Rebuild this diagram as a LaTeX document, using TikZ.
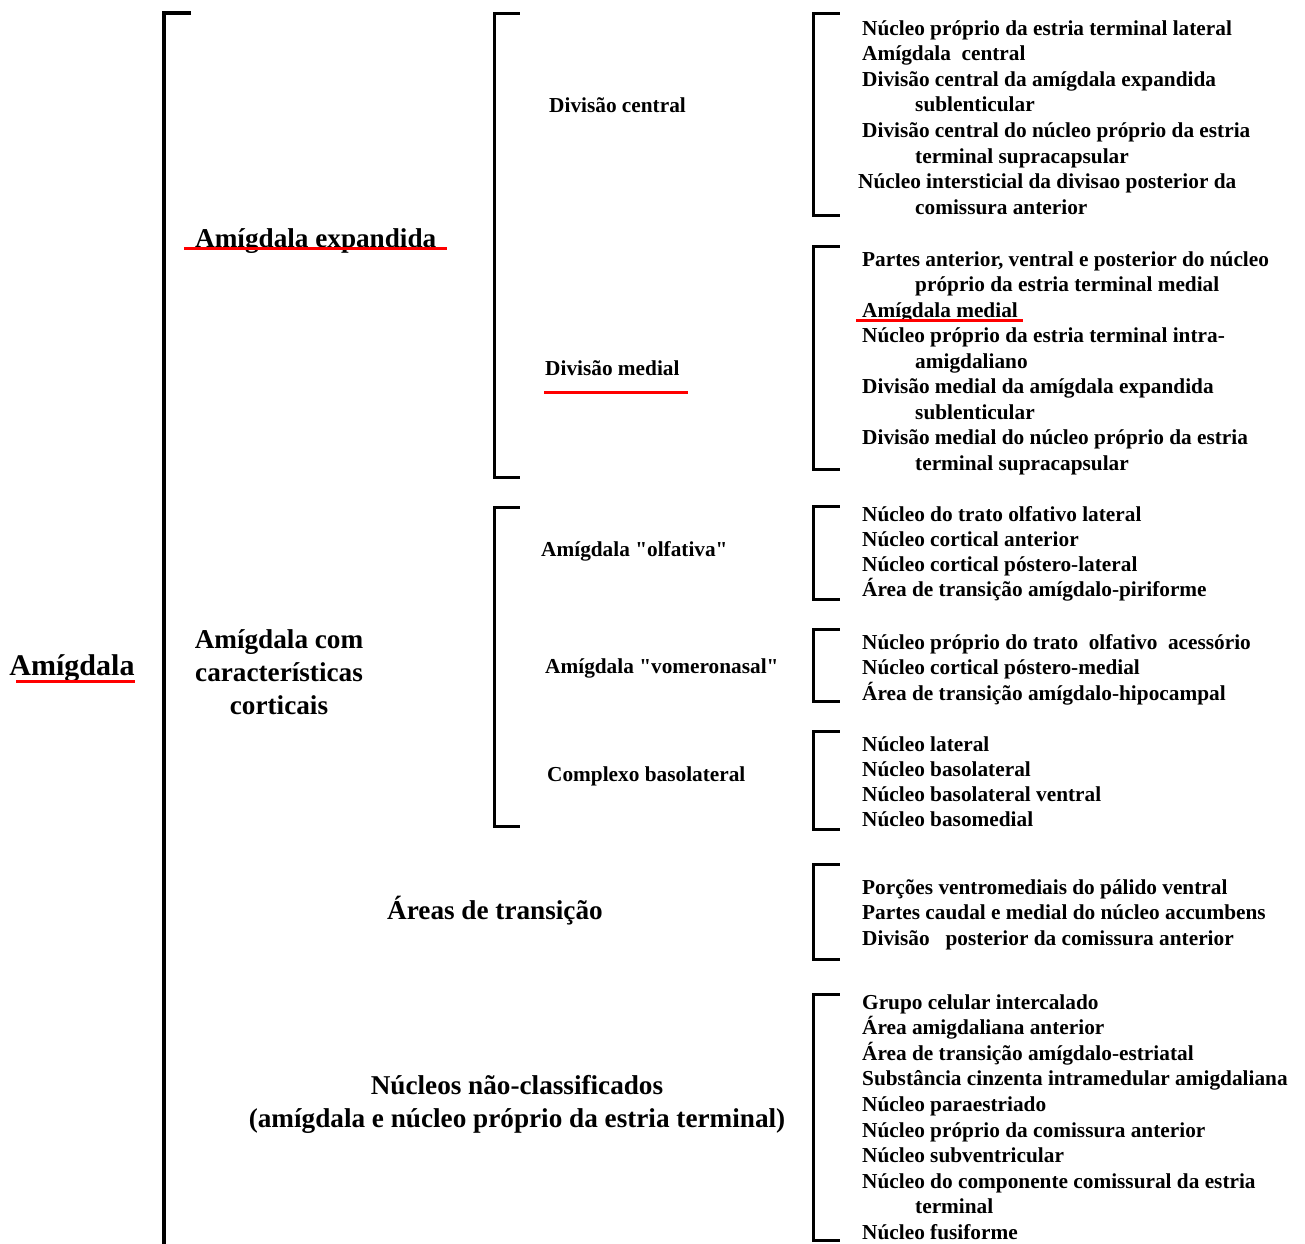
\documentclass[tikz,border=0pt]{standalone}
\usepackage{fontspec}
\setmainfont{Liberation Serif}[Ligatures=TeXOff]
\tikzset{
  item/.style={anchor=base west, inner sep=0pt, font=\bfseries\fontsize{21.3}{25}\selectfont},
  sub/.style={anchor=base west, inner sep=0pt, font=\bfseries\fontsize{21.3}{25}\selectfont},
  head/.style={inner sep=0pt, align=center, font=\bfseries\fontsize{27.2}{33}\selectfont},
  big/.style={inner sep=0pt, font=\bfseries\fontsize{30}{36}\selectfont},
  brk/.style={line width=3pt, line cap=rect},
  redline/.style={red, line width=3pt}
}
\begin{document}
\begin{tikzpicture}[x=1pt, y=-1pt]
\useasboundingbox (0,0) rectangle (1305,1243);
% main bracket
\draw[line width=3.5pt] (191,13) -- (164,13) -- (164,1250);
% second level brackets
\draw[brk] (518,13) -- (494,13) -- (494,477) -- (518,477);
\draw[brk] (518,507) -- (494,507) -- (494,826) -- (518,826);
% right brackets
\draw[brk] (838,13) -- (813,13) -- (813,215) -- (838,215);
\draw[brk] (838,246) -- (813,246) -- (813,469) -- (838,469);
\draw[brk] (838,506) -- (813,506) -- (813,599) -- (838,599);
\draw[brk] (838,629) -- (813,629) -- (813,701) -- (838,701);
\draw[brk] (838,731) -- (813,731) -- (813,829) -- (838,829);
\draw[brk] (838,864) -- (813,864) -- (813,959) -- (838,959);
\draw[brk] (838,994) -- (813,994) -- (813,1240) -- (838,1240);

% level 1 labels
\node[big, anchor=base] (amig) at (72,675) {Amígdala};
\draw[redline] (16,681) -- (135,681);
\node[head, anchor=base west] (exp) at (195,247) {Amígdala expandida};
\draw[redline] (184,248) -- (447,248);
\node[head] (cort) at (279,672) {Amígdala com\\características\\corticais};
\node[head, anchor=base] (trans) at (495,919) {Áreas de transição};
\node[head] (nclass) at (517,1104.5) {Núcleos não-classificados\\(amígdala e núcleo próprio da estria terminal)};

% level 2 labels
\node[sub] (dcen) at (549,112) {Divisão central};
\node[sub] (dmed) at (545,375) {Divisão medial};
\draw[redline] (544,392) -- (688,392);
\node[sub] (olf) at (541,556) {Amígdala "olfativa"};
\node[sub] (vom) at (545,673) {Amígdala "vomeronasal"};
\node[sub] (bas) at (547,781) {Complexo basolateral};

% right lists
\foreach \t [count=\i] in {
  Núcleo próprio da estria terminal lateral,
  Amígdala\ \ central,
  Divisão central da amígdala expandida,
  \hspace*{53pt}sublenticular,
  Divisão central do núcleo próprio da estria,
  \hspace*{53pt}terminal supracapsular,
  \hspace*{-4pt}Núcleo intersticial da divisao posterior da,
  \hspace*{53pt}comissura anterior}
  \node[item] (ra-\i) at (862,{35+25.6*(\i-1)}) {\t};

\foreach \t [count=\i] in {
  {Partes anterior, ventral e posterior do núcleo},
  \hspace*{53pt}próprio da estria terminal medial,
  Amígdala medial,
  Núcleo próprio da estria terminal intra-,
  \hspace*{53pt}amigdaliano,
  Divisão medial da amígdala expandida,
  \hspace*{53pt}sublenticular,
  Divisão medial do núcleo próprio da estria,
  \hspace*{53pt}terminal supracapsular}
  \node[item] (rb-\i) at (862,{266+25.5*(\i-1)}) {\t};
\draw[redline] (856,320) -- (1023,320);

\foreach \t [count=\i] in {
  Núcleo do trato olfativo lateral,
  Núcleo cortical anterior,
  Núcleo cortical póstero-lateral,
  Área de transição amígdalo-piriforme}
  \node[item] (rc-\i) at (862,{521+25.3*(\i-1)}) {\t};

\foreach \t [count=\i] in {
  Núcleo próprio do trato\ \ olfativo\ \ acessório,
  Núcleo cortical póstero-medial,
  Área de transição amígdalo-hipocampal}
  \node[item] (rd-\i) at (862,{649+25.5*(\i-1)}) {\t};

\foreach \t [count=\i] in {
  Núcleo lateral,
  Núcleo basolateral,
  Núcleo basolateral ventral,
  Núcleo basomedial}
  \node[item] (re-\i) at (862,{751+25.3*(\i-1)}) {\t};

\foreach \t [count=\i] in {
  Porções ventromediais do pálido ventral,
  Partes caudal e medial do núcleo accumbens,
  Divisão\ \ \ posterior da comissura anterior}
  \node[item] (rf-\i) at (862,{894+25.5*(\i-1)}) {\t};

\foreach \t [count=\i] in {
  Grupo celular intercalado,
  Área amigdaliana anterior,
  Área de transição amígdalo-estriatal,
  Substância cinzenta intramedular amigdaliana,
  Núcleo paraestriado,
  Núcleo próprio da comissura anterior,
  Núcleo subventricular,
  Núcleo do componente comissural da estria,
  \hspace*{53pt}terminal,
  Núcleo fusiforme}
  \node[item] (rg-\i) at (862,{1009+25.6*(\i-1)}) {\t};
\end{tikzpicture}
\end{document}
